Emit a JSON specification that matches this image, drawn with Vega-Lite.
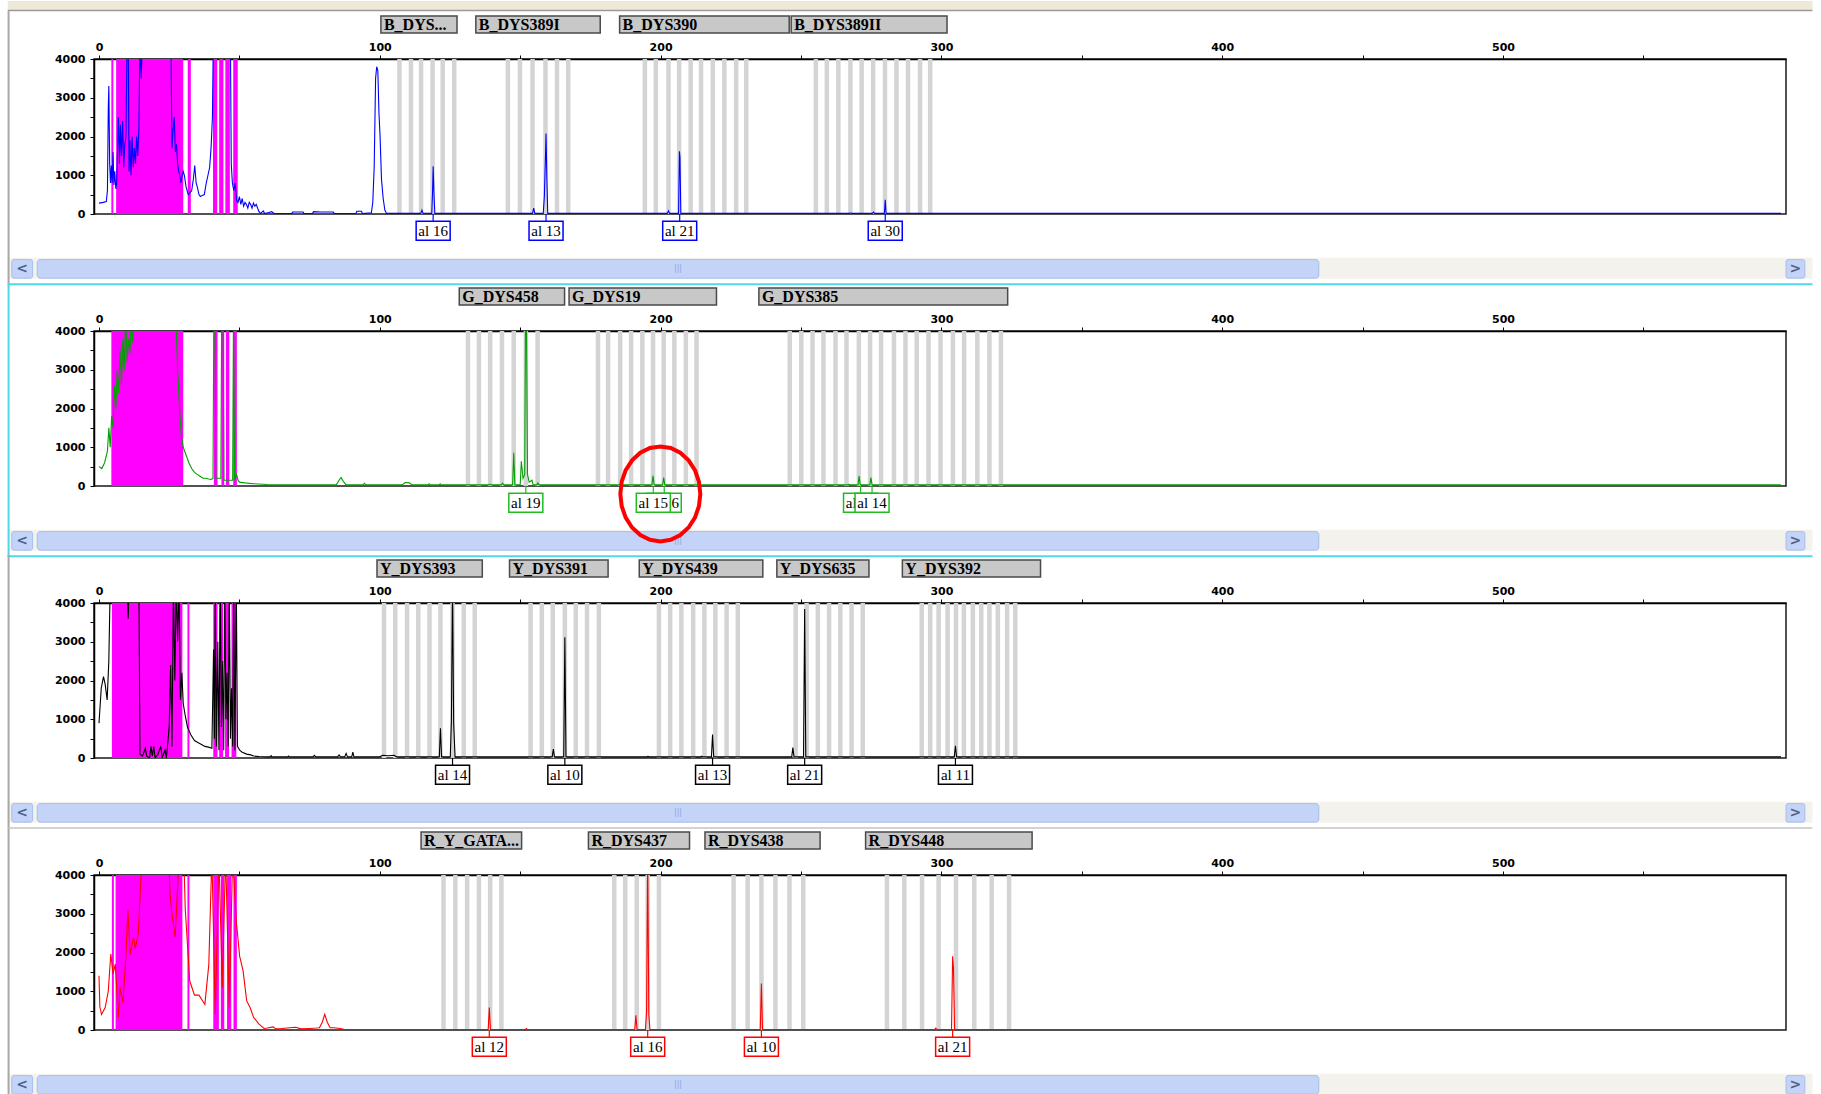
{
"$schema": "https://vega.github.io/schema/vega-lite/v6.json",
"background": "white",
"padding": {"left": 5, "top": 0, "right": 0, "bottom": 0},
"data": {"values": [
{"panel":1,"bp":0,"rfu":280},{"panel":1,"bp":1.5,"rfu":300},{"panel":1,"bp":2.6,"rfu":320},{"panel":1,"bp":3.0,"rfu":600},{"panel":1,"bp":3.3,"rfu":2700},{"panel":1,"bp":3.5,"rfu":3300},{"panel":1,"bp":3.8,"rfu":1300},{"panel":1,"bp":4.1,"rfu":800},{"panel":1,"bp":4.4,"rfu":1250},{"panel":1,"bp":4.7,"rfu":800},{"panel":1,"bp":5.0,"rfu":1600},{"panel":1,"bp":5.3,"rfu":750},{"panel":1,"bp":5.6,"rfu":1100},{"panel":1,"bp":6.0,"rfu":650},{"panel":1,"bp":6.3,"rfu":800},{"panel":1,"bp":6.6,"rfu":1650},{"panel":1,"bp":6.9,"rfu":2500},{"panel":1,"bp":7.3,"rfu":1300},{"panel":1,"bp":7.6,"rfu":2300},{"panel":1,"bp":8.0,"rfu":1500},{"panel":1,"bp":8.4,"rfu":2400},{"panel":1,"bp":8.8,"rfu":1200},{"panel":1,"bp":9.2,"rfu":1800},{"panel":1,"bp":9.6,"rfu":2000},{"panel":1,"bp":10.0,"rfu":4500},{"panel":1,"bp":10.4,"rfu":4500},{"panel":1,"bp":10.7,"rfu":1100},{"panel":1,"bp":11.0,"rfu":1900},{"panel":1,"bp":11.4,"rfu":1000},{"panel":1,"bp":11.8,"rfu":2000},{"panel":1,"bp":12.2,"rfu":1200},{"panel":1,"bp":12.6,"rfu":1700},{"panel":1,"bp":13.0,"rfu":1300},{"panel":1,"bp":13.4,"rfu":2000},{"panel":1,"bp":13.8,"rfu":1500},{"panel":1,"bp":14.2,"rfu":2200},{"panel":1,"bp":14.6,"rfu":4500},{"panel":1,"bp":15.0,"rfu":3500},{"panel":1,"bp":15.5,"rfu":4500},{"panel":1,"bp":16.2,"rfu":4600},{"panel":1,"bp":20.0,"rfu":4700},{"panel":1,"bp":25.0,"rfu":4600},{"panel":1,"bp":25.6,"rfu":4500},{"panel":1,"bp":26.0,"rfu":1700},{"panel":1,"bp":26.4,"rfu":2200},{"panel":1,"bp":26.8,"rfu":2500},{"panel":1,"bp":27.2,"rfu":1600},{"panel":1,"bp":27.6,"rfu":1800},{"panel":1,"bp":28.0,"rfu":1300},{"panel":1,"bp":28.4,"rfu":1100},{"panel":1,"bp":28.8,"rfu":1000},{"panel":1,"bp":29.2,"rfu":800},{"panel":1,"bp":29.6,"rfu":1000},{"panel":1,"bp":30.0,"rfu":1100},{"panel":1,"bp":30.4,"rfu":1000},{"panel":1,"bp":31.0,"rfu":700},{"panel":1,"bp":31.8,"rfu":500},{"panel":1,"bp":32.4,"rfu":550},{"panel":1,"bp":33.0,"rfu":600},{"panel":1,"bp":33.6,"rfu":900},{"panel":1,"bp":34.1,"rfu":1250},{"panel":1,"bp":34.6,"rfu":800},{"panel":1,"bp":35.0,"rfu":700},{"panel":1,"bp":35.6,"rfu":500},{"panel":1,"bp":36.1,"rfu":450},{"panel":1,"bp":36.8,"rfu":480},{"panel":1,"bp":37.5,"rfu":500},{"panel":1,"bp":38.2,"rfu":800},{"panel":1,"bp":38.8,"rfu":1000},{"panel":1,"bp":39.4,"rfu":1200},{"panel":1,"bp":39.9,"rfu":1700},{"panel":1,"bp":40.4,"rfu":2500},{"panel":1,"bp":40.7,"rfu":4500},{"panel":1,"bp":43.0,"rfu":4600},{"panel":1,"bp":46.8,"rfu":4500},{"panel":1,"bp":47.1,"rfu":1300},{"panel":1,"bp":47.5,"rfu":800},{"panel":1,"bp":48.0,"rfu":600},{"panel":1,"bp":48.5,"rfu":800},{"panel":1,"bp":49.0,"rfu":350},{"panel":1,"bp":49.5,"rfu":300},{"panel":1,"bp":50.0,"rfu":450},{"panel":1,"bp":50.5,"rfu":250},{"panel":1,"bp":51.0,"rfu":400},{"panel":1,"bp":51.5,"rfu":200},{"panel":1,"bp":52.0,"rfu":300},{"panel":1,"bp":52.5,"rfu":250},{"panel":1,"bp":53.0,"rfu":150},{"panel":1,"bp":53.5,"rfu":300},{"panel":1,"bp":54.0,"rfu":250},{"panel":1,"bp":54.5,"rfu":150},{"panel":1,"bp":55.0,"rfu":280},{"panel":1,"bp":55.5,"rfu":200},{"panel":1,"bp":56.0,"rfu":250},{"panel":1,"bp":56.5,"rfu":150},{"panel":1,"bp":57.0,"rfu":60},{"panel":1,"bp":57.5,"rfu":10},{"panel":1,"bp":58.5,"rfu":80},{"panel":1,"bp":59.0,"rfu":10},{"panel":1,"bp":60.5,"rfu":40},{"panel":1,"bp":61.5,"rfu":60},{"panel":1,"bp":62.5,"rfu":10},{"panel":1,"bp":68.6,"rfu":10},{"panel":1,"bp":69.0,"rfu":50},{"panel":1,"bp":72.7,"rfu":50},{"panel":1,"bp":73.0,"rfu":10},{"panel":1,"bp":76.0,"rfu":10},{"panel":1,"bp":76.4,"rfu":60},{"panel":1,"bp":79.0,"rfu":50},{"panel":1,"bp":83.4,"rfu":50},{"panel":1,"bp":83.8,"rfu":10},{"panel":1,"bp":91.5,"rfu":10},{"panel":1,"bp":91.8,"rfu":70},{"panel":1,"bp":93.5,"rfu":70},{"panel":1,"bp":93.8,"rfu":10},{"panel":1,"bp":97.0,"rfu":30},{"panel":1,"bp":97.5,"rfu":300},{"panel":1,"bp":98.0,"rfu":1200},{"panel":1,"bp":98.5,"rfu":3500},{"panel":1,"bp":98.9,"rfu":3800},{"panel":1,"bp":99.3,"rfu":3700},{"panel":1,"bp":99.7,"rfu":2600},{"panel":1,"bp":100.1,"rfu":2000},{"panel":1,"bp":100.6,"rfu":900},{"panel":1,"bp":101.2,"rfu":400},{"panel":1,"bp":101.8,"rfu":100},{"panel":1,"bp":102.4,"rfu":15},{"panel":1,"bp":114.6,"rfu":15},{"panel":1,"bp":115.0,"rfu":100},{"panel":1,"bp":115.4,"rfu":15},{"panel":1,"bp":118.5,"rfu":15},{"panel":1,"bp":118.8,"rfu":600},{"panel":1,"bp":119.0,"rfu":1230},{"panel":1,"bp":119.3,"rfu":500},{"panel":1,"bp":119.6,"rfu":15},{"panel":1,"bp":154.4,"rfu":15},{"panel":1,"bp":154.8,"rfu":150},{"panel":1,"bp":155.2,"rfu":15},{"panel":1,"bp":158.2,"rfu":15},{"panel":1,"bp":158.6,"rfu":450},{"panel":1,"bp":159.0,"rfu":1500},{"panel":1,"bp":159.2,"rfu":2080},{"panel":1,"bp":159.5,"rfu":900},{"panel":1,"bp":159.8,"rfu":15},{"panel":1,"bp":202.4,"rfu":15},{"panel":1,"bp":202.8,"rfu":80},{"panel":1,"bp":203.2,"rfu":15},{"panel":1,"bp":206.4,"rfu":15},{"panel":1,"bp":206.7,"rfu":1620},{"panel":1,"bp":206.9,"rfu":1450},{"panel":1,"bp":207.2,"rfu":15},{"panel":1,"bp":267.3,"rfu":15},{"panel":1,"bp":267.6,"rfu":30},{"panel":1,"bp":267.9,"rfu":15},{"panel":1,"bp":275.4,"rfu":15},{"panel":1,"bp":275.8,"rfu":50},{"panel":1,"bp":276.2,"rfu":15},{"panel":1,"bp":279.7,"rfu":15},{"panel":1,"bp":280.0,"rfu":370},{"panel":1,"bp":280.3,"rfu":15},{"panel":1,"bp":599,"rfu":15},

{"panel":2,"bp":0,"rfu":500},{"panel":2,"bp":1.0,"rfu":450},{"panel":2,"bp":2.0,"rfu":600},{"panel":2,"bp":3.0,"rfu":900},{"panel":2,"bp":3.5,"rfu":1500},{"panel":2,"bp":4.0,"rfu":1000},{"panel":2,"bp":4.5,"rfu":1800},{"panel":2,"bp":5.0,"rfu":1500},{"panel":2,"bp":5.5,"rfu":2600},{"panel":2,"bp":6.0,"rfu":2000},{"panel":2,"bp":6.5,"rfu":3000},{"panel":2,"bp":7.0,"rfu":2400},{"panel":2,"bp":7.5,"rfu":3500},{"panel":2,"bp":8.0,"rfu":2600},{"panel":2,"bp":8.5,"rfu":3800},{"panel":2,"bp":9.0,"rfu":3000},{"panel":2,"bp":9.5,"rfu":4500},{"panel":2,"bp":10.0,"rfu":3200},{"panel":2,"bp":10.5,"rfu":3800},{"panel":2,"bp":11.0,"rfu":3400},{"panel":2,"bp":11.5,"rfu":4500},{"panel":2,"bp":12.0,"rfu":3700},{"panel":2,"bp":12.5,"rfu":4500},{"panel":2,"bp":13.0,"rfu":4600},{"panel":2,"bp":20.0,"rfu":4700},{"panel":2,"bp":26.5,"rfu":4600},{"panel":2,"bp":27.3,"rfu":4500},{"panel":2,"bp":28.0,"rfu":3000},{"panel":2,"bp":28.7,"rfu":2000},{"panel":2,"bp":29.3,"rfu":1300},{"panel":2,"bp":30.0,"rfu":1000},{"panel":2,"bp":31.0,"rfu":800},{"panel":2,"bp":32.0,"rfu":600},{"panel":2,"bp":33.0,"rfu":450},{"panel":2,"bp":34.0,"rfu":350},{"panel":2,"bp":35.0,"rfu":300},{"panel":2,"bp":36.0,"rfu":250},{"panel":2,"bp":37.0,"rfu":200},{"panel":2,"bp":38.0,"rfu":200},{"panel":2,"bp":39.0,"rfu":180},{"panel":2,"bp":40.0,"rfu":170},{"panel":2,"bp":40.6,"rfu":200},{"panel":2,"bp":40.9,"rfu":4500},{"panel":2,"bp":41.3,"rfu":4500},{"panel":2,"bp":41.6,"rfu":200},{"panel":2,"bp":43.4,"rfu":200},{"panel":2,"bp":43.7,"rfu":4500},{"panel":2,"bp":44.2,"rfu":4500},{"panel":2,"bp":44.5,"rfu":150},{"panel":2,"bp":47.6,"rfu":150},{"panel":2,"bp":47.9,"rfu":4500},{"panel":2,"bp":48.3,"rfu":150},{"panel":2,"bp":49.0,"rfu":300},{"panel":2,"bp":49.5,"rfu":150},{"panel":2,"bp":50.0,"rfu":100},{"panel":2,"bp":52.0,"rfu":80},{"panel":2,"bp":55.0,"rfu":60},{"panel":2,"bp":60.0,"rfu":40},{"panel":2,"bp":70.0,"rfu":30},{"panel":2,"bp":84.5,"rfu":30},{"panel":2,"bp":85.5,"rfu":150},{"panel":2,"bp":86.2,"rfu":220},{"panel":2,"bp":87.0,"rfu":120},{"panel":2,"bp":88.0,"rfu":30},{"panel":2,"bp":94.0,"rfu":30},{"panel":2,"bp":94.5,"rfu":70},{"panel":2,"bp":95.0,"rfu":30},{"panel":2,"bp":108.0,"rfu":30},{"panel":2,"bp":109.0,"rfu":90},{"panel":2,"bp":110.5,"rfu":80},{"panel":2,"bp":111.5,"rfu":30},{"panel":2,"bp":117.2,"rfu":30},{"panel":2,"bp":117.6,"rfu":60},{"panel":2,"bp":118.0,"rfu":30},{"panel":2,"bp":121.1,"rfu":30},{"panel":2,"bp":121.5,"rfu":60},{"panel":2,"bp":121.9,"rfu":30},{"panel":2,"bp":138.8,"rfu":30},{"panel":2,"bp":139.2,"rfu":50},{"panel":2,"bp":139.6,"rfu":30},{"panel":2,"bp":143.3,"rfu":30},{"panel":2,"bp":143.7,"rfu":70},{"panel":2,"bp":144.1,"rfu":30},{"panel":2,"bp":147.3,"rfu":30},{"panel":2,"bp":147.7,"rfu":860},{"panel":2,"bp":148.1,"rfu":30},{"panel":2,"bp":150.0,"rfu":30},{"panel":2,"bp":150.4,"rfu":640},{"panel":2,"bp":151.0,"rfu":200},{"panel":2,"bp":151.6,"rfu":300},{"panel":2,"bp":151.9,"rfu":4500},{"panel":2,"bp":152.2,"rfu":4500},{"panel":2,"bp":152.6,"rfu":300},{"panel":2,"bp":153.2,"rfu":100},{"panel":2,"bp":154.2,"rfu":150},{"panel":2,"bp":154.6,"rfu":30},{"panel":2,"bp":155.9,"rfu":30},{"panel":2,"bp":156.3,"rfu":80},{"panel":2,"bp":156.7,"rfu":30},{"panel":2,"bp":196.9,"rfu":30},{"panel":2,"bp":197.3,"rfu":266},{"panel":2,"bp":197.7,"rfu":30},{"panel":2,"bp":200.7,"rfu":30},{"panel":2,"bp":201.1,"rfu":215},{"panel":2,"bp":201.5,"rfu":30},{"panel":2,"bp":266.6,"rfu":30},{"panel":2,"bp":267.0,"rfu":40},{"panel":2,"bp":267.4,"rfu":30},{"panel":2,"bp":270.3,"rfu":30},{"panel":2,"bp":270.7,"rfu":258},{"panel":2,"bp":271.1,"rfu":30},{"panel":2,"bp":274.5,"rfu":30},{"panel":2,"bp":274.9,"rfu":215},{"panel":2,"bp":275.3,"rfu":30},{"panel":2,"bp":599,"rfu":30},

{"panel":3,"bp":0,"rfu":900},{"panel":3,"bp":0.8,"rfu":1800},{"panel":3,"bp":1.6,"rfu":2100},{"panel":3,"bp":2.2,"rfu":1900},{"panel":3,"bp":2.9,"rfu":1500},{"panel":3,"bp":3.5,"rfu":2500},{"panel":3,"bp":4.0,"rfu":4500},{"panel":3,"bp":4.6,"rfu":4600},{"panel":3,"bp":10.0,"rfu":4600},{"panel":3,"bp":10.4,"rfu":3600},{"panel":3,"bp":10.8,"rfu":4600},{"panel":3,"bp":14.2,"rfu":4600},{"panel":3,"bp":14.6,"rfu":100},{"panel":3,"bp":15.5,"rfu":50},{"panel":3,"bp":16.5,"rfu":250},{"panel":3,"bp":17.0,"rfu":50},{"panel":3,"bp":18.0,"rfu":0},{"panel":3,"bp":18.5,"rfu":300},{"panel":3,"bp":19.0,"rfu":50},{"panel":3,"bp":19.5,"rfu":300},{"panel":3,"bp":20.0,"rfu":0},{"panel":3,"bp":21.0,"rfu":100},{"panel":3,"bp":22.0,"rfu":300},{"panel":3,"bp":22.5,"rfu":0},{"panel":3,"bp":23.5,"rfu":200},{"panel":3,"bp":24.0,"rfu":0},{"panel":3,"bp":25.0,"rfu":800},{"panel":3,"bp":25.5,"rfu":2400},{"panel":3,"bp":26.0,"rfu":300},{"panel":3,"bp":26.5,"rfu":4500},{"panel":3,"bp":27.0,"rfu":2000},{"panel":3,"bp":27.5,"rfu":4500},{"panel":3,"bp":28.0,"rfu":3000},{"panel":3,"bp":28.5,"rfu":4500},{"panel":3,"bp":29.0,"rfu":1500},{"panel":3,"bp":29.5,"rfu":2200},{"panel":3,"bp":30.0,"rfu":1400},{"panel":3,"bp":30.7,"rfu":1100},{"panel":3,"bp":31.5,"rfu":800},{"panel":3,"bp":32.7,"rfu":600},{"panel":3,"bp":34.0,"rfu":450},{"panel":3,"bp":35.2,"rfu":400},{"panel":3,"bp":36.5,"rfu":350},{"panel":3,"bp":37.7,"rfu":300},{"panel":3,"bp":39.0,"rfu":280},{"panel":3,"bp":40.2,"rfu":250},{"panel":3,"bp":40.8,"rfu":2800},{"panel":3,"bp":41.1,"rfu":500},{"panel":3,"bp":41.4,"rfu":4500},{"panel":3,"bp":41.8,"rfu":300},{"panel":3,"bp":42.3,"rfu":3000},{"panel":3,"bp":42.7,"rfu":200},{"panel":3,"bp":43.2,"rfu":4500},{"panel":3,"bp":43.6,"rfu":800},{"panel":3,"bp":44.0,"rfu":2500},{"panel":3,"bp":44.4,"rfu":200},{"panel":3,"bp":44.8,"rfu":4500},{"panel":3,"bp":45.2,"rfu":1000},{"panel":3,"bp":45.6,"rfu":2200},{"panel":3,"bp":46.0,"rfu":300},{"panel":3,"bp":46.4,"rfu":4500},{"panel":3,"bp":46.8,"rfu":500},{"panel":3,"bp":47.2,"rfu":1800},{"panel":3,"bp":47.6,"rfu":300},{"panel":3,"bp":48.0,"rfu":4500},{"panel":3,"bp":48.4,"rfu":200},{"panel":3,"bp":48.9,"rfu":4500},{"panel":3,"bp":49.3,"rfu":300},{"panel":3,"bp":50.1,"rfu":200},{"panel":3,"bp":51.0,"rfu":150},{"panel":3,"bp":52.6,"rfu":100},{"panel":3,"bp":54.0,"rfu":80},{"panel":3,"bp":55.1,"rfu":50},{"panel":3,"bp":57.0,"rfu":40},{"panel":3,"bp":60.0,"rfu":30},{"panel":3,"bp":61.0,"rfu":30},{"panel":3,"bp":61.3,"rfu":60},{"panel":3,"bp":61.6,"rfu":30},{"panel":3,"bp":67.2,"rfu":30},{"panel":3,"bp":67.5,"rfu":50},{"panel":3,"bp":67.8,"rfu":30},{"panel":3,"bp":76.2,"rfu":30},{"panel":3,"bp":76.7,"rfu":70},{"panel":3,"bp":77.2,"rfu":30},{"panel":3,"bp":85.0,"rfu":30},{"panel":3,"bp":85.5,"rfu":80},{"panel":3,"bp":86.0,"rfu":30},{"panel":3,"bp":87.5,"rfu":30},{"panel":3,"bp":88.0,"rfu":120},{"panel":3,"bp":88.5,"rfu":30},{"panel":3,"bp":90.0,"rfu":30},{"panel":3,"bp":90.4,"rfu":150},{"panel":3,"bp":90.8,"rfu":30},{"panel":3,"bp":100.0,"rfu":30},{"panel":3,"bp":101.0,"rfu":70},{"panel":3,"bp":103.0,"rfu":60},{"panel":3,"bp":105.0,"rfu":70},{"panel":3,"bp":106.0,"rfu":30},{"panel":3,"bp":121.2,"rfu":30},{"panel":3,"bp":121.6,"rfu":770},{"panel":3,"bp":122.0,"rfu":30},{"panel":3,"bp":125.1,"rfu":30},{"panel":3,"bp":125.5,"rfu":960},{"panel":3,"bp":125.9,"rfu":4500},{"panel":3,"bp":126.3,"rfu":900},{"panel":3,"bp":126.8,"rfu":30},{"panel":3,"bp":161.4,"rfu":30},{"panel":3,"bp":161.8,"rfu":233},{"panel":3,"bp":162.2,"rfu":30},{"panel":3,"bp":165.5,"rfu":30},{"panel":3,"bp":165.9,"rfu":3114},{"panel":3,"bp":166.3,"rfu":30},{"panel":3,"bp":195.1,"rfu":30},{"panel":3,"bp":195.5,"rfu":40},{"panel":3,"bp":195.9,"rfu":30},{"panel":3,"bp":214.2,"rfu":30},{"panel":3,"bp":214.6,"rfu":50},{"panel":3,"bp":215.0,"rfu":30},{"panel":3,"bp":218.1,"rfu":30},{"panel":3,"bp":218.5,"rfu":605},{"panel":3,"bp":218.9,"rfu":30},{"panel":3,"bp":246.7,"rfu":30},{"panel":3,"bp":247.1,"rfu":268},{"panel":3,"bp":247.5,"rfu":30},{"panel":3,"bp":250.9,"rfu":30},{"panel":3,"bp":251.3,"rfu":3845},{"panel":3,"bp":251.7,"rfu":30},{"panel":3,"bp":304.6,"rfu":30},{"panel":3,"bp":305.0,"rfu":316},{"panel":3,"bp":305.4,"rfu":30},{"panel":3,"bp":599,"rfu":30},

{"panel":4,"bp":0,"rfu":1400},{"panel":4,"bp":0.3,"rfu":600},{"panel":4,"bp":0.9,"rfu":400},{"panel":4,"bp":2.2,"rfu":580},{"panel":4,"bp":3.3,"rfu":1000},{"panel":4,"bp":4.2,"rfu":1960},{"panel":4,"bp":5.0,"rfu":1450},{"panel":4,"bp":5.8,"rfu":1700},{"panel":4,"bp":6.9,"rfu":320},{"panel":4,"bp":7.5,"rfu":1100},{"panel":4,"bp":8.5,"rfu":700},{"panel":4,"bp":9.5,"rfu":1800},{"panel":4,"bp":10.3,"rfu":3100},{"panel":4,"bp":11.1,"rfu":1950},{"panel":4,"bp":12.3,"rfu":2400},{"panel":4,"bp":12.9,"rfu":2100},{"panel":4,"bp":14.0,"rfu":2500},{"panel":4,"bp":15.3,"rfu":4500},{"panel":4,"bp":16.0,"rfu":4600},{"panel":4,"bp":20.0,"rfu":4700},{"panel":4,"bp":24.8,"rfu":4600},{"panel":4,"bp":25.3,"rfu":3500},{"panel":4,"bp":26.0,"rfu":3000},{"panel":4,"bp":27.1,"rfu":2400},{"panel":4,"bp":27.8,"rfu":3400},{"panel":4,"bp":28.5,"rfu":4500},{"panel":4,"bp":30.2,"rfu":4500},{"panel":4,"bp":30.7,"rfu":3150},{"panel":4,"bp":32.3,"rfu":1270},{"panel":4,"bp":34.0,"rfu":900},{"panel":4,"bp":35.6,"rfu":900},{"panel":4,"bp":37.7,"rfu":660},{"panel":4,"bp":39.1,"rfu":1680},{"panel":4,"bp":40.2,"rfu":4500},{"panel":4,"bp":41.4,"rfu":400},{"panel":4,"bp":42.7,"rfu":4500},{"panel":4,"bp":43.9,"rfu":1100},{"panel":4,"bp":45.1,"rfu":4500},{"panel":4,"bp":46.4,"rfu":580},{"panel":4,"bp":47.6,"rfu":4500},{"panel":4,"bp":48.9,"rfu":2800},{"panel":4,"bp":50.1,"rfu":1900},{"panel":4,"bp":51.3,"rfu":1530},{"panel":4,"bp":52.6,"rfu":750},{"panel":4,"bp":53.8,"rfu":580},{"panel":4,"bp":55.1,"rfu":320},{"panel":4,"bp":57.0,"rfu":150},{"panel":4,"bp":58.8,"rfu":40},{"panel":4,"bp":60.0,"rfu":50},{"panel":4,"bp":62.0,"rfu":80},{"panel":4,"bp":63.0,"rfu":30},{"panel":4,"bp":65.0,"rfu":40},{"panel":4,"bp":68.0,"rfu":60},{"panel":4,"bp":70.0,"rfu":70},{"panel":4,"bp":72.0,"rfu":30},{"panel":4,"bp":75.0,"rfu":40},{"panel":4,"bp":77.5,"rfu":50},{"panel":4,"bp":78.5,"rfu":60},{"panel":4,"bp":79.5,"rfu":200},{"panel":4,"bp":80.4,"rfu":406},{"panel":4,"bp":81.3,"rfu":200},{"panel":4,"bp":82.3,"rfu":60},{"panel":4,"bp":83.6,"rfu":60},{"panel":4,"bp":86.0,"rfu":40},{"panel":4,"bp":87.4,"rfu":10},{"panel":4,"bp":138.6,"rfu":10},{"panel":4,"bp":139.0,"rfu":577},{"panel":4,"bp":139.4,"rfu":10},{"panel":4,"bp":151.8,"rfu":10},{"panel":4,"bp":152.2,"rfu":40},{"panel":4,"bp":152.6,"rfu":10},{"panel":4,"bp":190.8,"rfu":10},{"panel":4,"bp":191.2,"rfu":380},{"panel":4,"bp":191.6,"rfu":10},{"panel":4,"bp":194.6,"rfu":10},{"panel":4,"bp":195.0,"rfu":474},{"panel":4,"bp":195.4,"rfu":4500},{"panel":4,"bp":195.8,"rfu":400},{"panel":4,"bp":196.2,"rfu":10},{"panel":4,"bp":235.5,"rfu":10},{"panel":4,"bp":235.9,"rfu":1198},{"panel":4,"bp":236.3,"rfu":10},{"panel":4,"bp":297.6,"rfu":10},{"panel":4,"bp":298.0,"rfu":50},{"panel":4,"bp":298.4,"rfu":10},{"panel":4,"bp":303.6,"rfu":10},{"panel":4,"bp":304.0,"rfu":1905},{"panel":4,"bp":304.3,"rfu":1600},{"panel":4,"bp":304.7,"rfu":10},{"panel":4,"bp":599,"rfu":10},

{"panel":1,"marker":"B_DYS...","start":100.4,"end":127.5},{"panel":1,"marker":"B_DYS389I","start":134.2,"end":178.5},{"panel":1,"marker":"B_DYS390","start":185.4,"end":245.8},{"panel":1,"marker":"B_DYS389II","start":246.5,"end":302},
{"panel":2,"marker":"G_DYS458","start":128.3,"end":165.8},{"panel":2,"marker":"G_DYS19","start":167.4,"end":219.9},{"panel":2,"marker":"G_DYS385","start":235,"end":323.6},
{"panel":3,"marker":"Y_DYS393","start":99,"end":136.5},{"panel":3,"marker":"Y_DYS391","start":146.2,"end":181.3},{"panel":3,"marker":"Y_DYS439","start":192.4,"end":236.4},{"panel":3,"marker":"Y_DYS635","start":241.4,"end":274.2},{"panel":3,"marker":"Y_DYS392","start":286.1,"end":335.3},
{"panel":4,"marker":"R_Y_GATA...","start":114.7,"end":150.5},{"panel":4,"marker":"R_DYS437","start":174.3,"end":210.3},{"panel":4,"marker":"R_DYS438","start":215.8,"end":256.8},{"panel":4,"marker":"R_DYS448","start":273,"end":332.3},

{"panel":1,"bin":107},{"panel":1,"bin":111.1},{"panel":1,"bin":114.7},{"panel":1,"bin":118.8},{"panel":1,"bin":122.4},{"panel":1,"bin":126.5},{"panel":1,"bin":145.6},{"panel":1,"bin":149.9},{"panel":1,"bin":154.4},{"panel":1,"bin":159},{"panel":1,"bin":163.1},{"panel":1,"bin":167.1},{"panel":1,"bin":194.4},{"panel":1,"bin":198.3},{"panel":1,"bin":202.8},{"panel":1,"bin":206.6},{"panel":1,"bin":210.7},{"panel":1,"bin":214.4},{"panel":1,"bin":218.6},{"panel":1,"bin":222.7},{"panel":1,"bin":226.9},{"panel":1,"bin":230.5},{"panel":1,"bin":255.3},{"panel":1,"bin":259.2},{"panel":1,"bin":263.3},{"panel":1,"bin":267.6},{"panel":1,"bin":271.6},{"panel":1,"bin":275.7},{"panel":1,"bin":279.9},{"panel":1,"bin":284},{"panel":1,"bin":288.1},{"panel":1,"bin":292.4},{"panel":1,"bin":296},
{"panel":2,"bin":131.4},{"panel":2,"bin":135.3},{"panel":2,"bin":139.3},{"panel":2,"bin":143.5},{"panel":2,"bin":147.7},{"panel":2,"bin":152},{"panel":2,"bin":156.2},{"panel":2,"bin":177.7},{"panel":2,"bin":181.3},{"panel":2,"bin":185.6},{"panel":2,"bin":189.5},{"panel":2,"bin":193.5},{"panel":2,"bin":197.3},{"panel":2,"bin":201.1},{"panel":2,"bin":204.9},{"panel":2,"bin":209},{"panel":2,"bin":212.8},{"panel":2,"bin":246},{"panel":2,"bin":250.1},{"panel":2,"bin":254.1},{"panel":2,"bin":258},{"panel":2,"bin":262.3},{"panel":2,"bin":266.2},{"panel":2,"bin":270.6},{"panel":2,"bin":274.6},{"panel":2,"bin":278.5},{"panel":2,"bin":283.1},{"panel":2,"bin":287.2},{"panel":2,"bin":291.2},{"panel":2,"bin":295.4},{"panel":2,"bin":299.7},{"panel":2,"bin":304.1},{"panel":2,"bin":308.1},{"panel":2,"bin":312.8},{"panel":2,"bin":317.1},{"panel":2,"bin":321.2},
{"panel":3,"bin":101.5},{"panel":3,"bin":105.5},{"panel":3,"bin":109.7},{"panel":3,"bin":113.7},{"panel":3,"bin":117.7},{"panel":3,"bin":121.6},{"panel":3,"bin":125.9},{"panel":3,"bin":129.9},{"panel":3,"bin":133.8},{"panel":3,"bin":153.7},{"panel":3,"bin":157.7},{"panel":3,"bin":161.6},{"panel":3,"bin":165.9},{"panel":3,"bin":169.8},{"panel":3,"bin":173.8},{"panel":3,"bin":178},{"panel":3,"bin":199.4},{"panel":3,"bin":203.4},{"panel":3,"bin":207.4},{"panel":3,"bin":211.6},{"panel":3,"bin":215.6},{"panel":3,"bin":219.5},{"panel":3,"bin":223.5},{"panel":3,"bin":227.5},{"panel":3,"bin":248.1},{"panel":3,"bin":252},{"panel":3,"bin":256},{"panel":3,"bin":260},{"panel":3,"bin":264},{"panel":3,"bin":268},{"panel":3,"bin":272},{"panel":3,"bin":293},{"panel":3,"bin":296},{"panel":3,"bin":299},{"panel":3,"bin":302.2},{"panel":3,"bin":305.2},{"panel":3,"bin":308},{"panel":3,"bin":311.2},{"panel":3,"bin":314.2},{"panel":3,"bin":317.1},{"panel":3,"bin":320.1},{"panel":3,"bin":323.4},{"panel":3,"bin":326.3},
{"panel":4,"bin":122.7},{"panel":4,"bin":126.9},{"panel":4,"bin":131.1},{"panel":4,"bin":135.3},{"panel":4,"bin":139.3},{"panel":4,"bin":143.3},{"panel":4,"bin":183.5},{"panel":4,"bin":187.4},{"panel":4,"bin":191.5},{"panel":4,"bin":195.4},{"panel":4,"bin":199.4},{"panel":4,"bin":226},{"panel":4,"bin":231},{"panel":4,"bin":235.9},{"panel":4,"bin":240.9},{"panel":4,"bin":245.9},{"panel":4,"bin":250.8},{"panel":4,"bin":280.6},{"panel":4,"bin":286.8},{"panel":4,"bin":293.1},{"panel":4,"bin":299},{"panel":4,"bin":305.2},{"panel":4,"bin":311.7},{"panel":4,"bin":317.9},{"panel":4,"bin":324.1},

{"panel":1,"from":4.4,"to":5.1},{"panel":1,"from":6.1,"to":30},{"panel":1,"from":31.6,"to":32.7},{"panel":1,"from":40.6,"to":42.1},{"panel":1,"from":42.8,"to":44.3},{"panel":1,"from":45,"to":46.6},{"panel":1,"from":47.8,"to":49.4},
{"panel":2,"from":4.4,"to":30.0},{"panel":2,"from":40.9,"to":42.2},{"panel":2,"from":43.6,"to":44.6},{"panel":2,"from":45.2,"to":46.4},{"panel":2,"from":47.8,"to":49.1},
{"panel":3,"from":4.6,"to":29.7},{"panel":3,"from":31.5,"to":32.2},{"panel":3,"from":40.7,"to":42.2},{"panel":3,"from":42.8,"to":44.2},{"panel":3,"from":44.9,"to":46.3},{"panel":3,"from":47.2,"to":48.9},
{"panel":4,"from":4.6,"to":5.3},{"panel":4,"from":5.9,"to":29.7},{"panel":4,"from":31.5,"to":32.2},{"panel":4,"from":40.7,"to":42.7},{"panel":4,"from":43.4,"to":44.6},{"panel":4,"from":45.6,"to":47.1},{"panel":4,"from":47.9,"to":49.1},

{"panel":1,"allele":"al 16","size":119.0},{"panel":1,"allele":"al 13","size":159.2},{"panel":1,"allele":"al 21","size":206.8},{"panel":1,"allele":"al 30","size":280.0},
{"panel":2,"allele":"al 19","size":152.0},{"panel":2,"allele":"al 16","size":201.3},{"panel":2,"allele":"al 15","size":197.4},{"panel":2,"allele":"al 13","size":271.2},{"panel":2,"allele":"al 14","size":275.3},
{"panel":3,"allele":"al 14","size":125.9},{"panel":3,"allele":"al 10","size":165.9},{"panel":3,"allele":"al 13","size":218.5},{"panel":3,"allele":"al 21","size":251.3},{"panel":3,"allele":"al 11","size":305.0},
{"panel":4,"allele":"al 12","size":139.0},{"panel":4,"allele":"al 16","size":195.4},{"panel":4,"allele":"al 10","size":235.9},{"panel":4,"allele":"al 21","size":304.0},

{"panel":2,"note":"circled","at":199.9}
]},
"facet": {"row": {"field": "panel", "type": "ordinal", "title": null, "header": {"labels": false, "title": null}}},
"spacing": {"row": 117},
"bounds": "flush",
"resolve": {"axis": {"x": "independent", "y": "independent"}},
"spec": {
"width": 1692,
"height": 155,
"layer": [
{"transform": [{"filter": "isValid(datum.bin)"}],
 "mark": {"type": "rule", "stroke": "#d4d4d4", "strokeWidth": 4.5},
 "encoding": {
  "x": {"field": "bin", "type": "quantitative", "scale": {"domain": [0, 599], "nice": false, "zero": false}, "title": null, "axis": {"orient": "top", "values": [0,50,100,150,200,250,300,350,400,450,500,550], "labelExpr": "datum.value % 100 === 0 ? datum.label : ''", "tickSize": 4, "labelPadding": 3, "labelFlush": false, "labelOverlap": false}},
  "y": {"datum": 0, "type": "quantitative", "scale": {"domain": [0, 4000], "nice": false, "zero": false}, "title": null, "axis": {"orient": "left", "values": [0,500,1000,1500,2000,2500,3000,3500,4000], "format": "d", "labelExpr": "datum.value % 1000 === 0 ? datum.label : ''", "tickSize": 4, "labelPadding": 5, "labelFlush": false, "labelOverlap": false}},
  "y2": {"datum": 4000}}},
{"transform": [{"filter": "isValid(datum.from)"}],
 "mark": {"type": "rect", "fill": "#ff00ff"},
 "encoding": {
  "x": {"field": "from", "type": "quantitative", "scale": {"domain": [0, 599], "nice": false, "zero": false}, "title": null, "axis": {"orient": "top", "values": [0,50,100,150,200,250,300,350,400,450,500,550], "labelExpr": "datum.value % 100 === 0 ? datum.label : ''", "tickSize": 4, "labelPadding": 3, "labelFlush": false, "labelOverlap": false}},
  "x2": {"field": "to"},
  "y": {"datum": 0, "type": "quantitative", "scale": {"domain": [0, 4000], "nice": false, "zero": false}, "title": null, "axis": {"orient": "left", "values": [0,500,1000,1500,2000,2500,3000,3500,4000], "format": "d", "labelExpr": "datum.value % 1000 === 0 ? datum.label : ''", "tickSize": 4, "labelPadding": 5, "labelFlush": false, "labelOverlap": false}},
  "y2": {"datum": 4000}}},
{"transform": [{"filter": "isValid(datum.rfu)"}],
 "mark": {"type": "line", "strokeWidth": 1.1, "clip": true},
 "encoding": {
  "x": {"field": "bp", "type": "quantitative", "scale": {"domain": [0, 599], "nice": false, "zero": false}, "title": null, "axis": {"orient": "top", "values": [0,50,100,150,200,250,300,350,400,450,500,550], "labelExpr": "datum.value % 100 === 0 ? datum.label : ''", "tickSize": 4, "labelPadding": 3, "labelFlush": false, "labelOverlap": false}},
  "y": {"field": "rfu", "type": "quantitative", "scale": {"domain": [0, 4000], "nice": false, "zero": false}, "title": null, "axis": {"orient": "left", "values": [0,500,1000,1500,2000,2500,3000,3500,4000], "format": "d", "labelExpr": "datum.value % 1000 === 0 ? datum.label : ''", "tickSize": 4, "labelPadding": 5, "labelFlush": false, "labelOverlap": false}},
  "color": {"field": "panel", "type": "nominal", "scale": {"domain": [1, 2, 3, 4], "range": ["#0000ff", "#00a000", "#000000", "#ff0000"]}, "legend": null}}},
{"transform": [{"filter": "isValid(datum.marker)"}],
 "mark": {"type": "rect", "fill": "#c8c8c8", "stroke": "#4a4a4a", "strokeWidth": 1.5},
 "encoding": {
  "x": {"field": "start", "type": "quantitative", "scale": {"domain": [0, 599], "nice": false, "zero": false}, "title": null, "axis": {"orient": "top", "values": [0,50,100,150,200,250,300,350,400,450,500,550], "labelExpr": "datum.value % 100 === 0 ? datum.label : ''", "tickSize": 4, "labelPadding": 3, "labelFlush": false, "labelOverlap": false}},
  "x2": {"field": "end"},
  "y": {"datum": 5110, "type": "quantitative", "scale": {"domain": [0, 4000], "nice": false, "zero": false}, "title": null, "axis": {"orient": "left", "values": [0,500,1000,1500,2000,2500,3000,3500,4000], "format": "d", "labelExpr": "datum.value % 1000 === 0 ? datum.label : ''", "tickSize": 4, "labelPadding": 5, "labelFlush": false, "labelOverlap": false}},
  "y2": {"datum": 4671}}},
{"transform": [{"filter": "isValid(datum.marker)"}],
 "mark": {"type": "text", "align": "left", "baseline": "middle", "dx": 3, "font": "Liberation Serif", "fontWeight": "bold", "fontSize": 16, "fill": "#000000"},
 "encoding": {
  "x": {"field": "start", "type": "quantitative", "scale": {"domain": [0, 599], "nice": false, "zero": false}, "title": null, "axis": {"orient": "top", "values": [0,50,100,150,200,250,300,350,400,450,500,550], "labelExpr": "datum.value % 100 === 0 ? datum.label : ''", "tickSize": 4, "labelPadding": 3, "labelFlush": false, "labelOverlap": false}},
  "y": {"datum": 4880, "type": "quantitative", "scale": {"domain": [0, 4000], "nice": false, "zero": false}, "title": null, "axis": {"orient": "left", "values": [0,500,1000,1500,2000,2500,3000,3500,4000], "format": "d", "labelExpr": "datum.value % 1000 === 0 ? datum.label : ''", "tickSize": 4, "labelPadding": 5, "labelFlush": false, "labelOverlap": false}},
  "text": {"field": "marker"}}},
{"transform": [{"filter": "isValid(datum.allele)"}],
 "mark": {"type": "rule", "strokeWidth": 1.2},
 "encoding": {
  "x": {"field": "size", "type": "quantitative", "scale": {"domain": [0, 599], "nice": false, "zero": false}, "title": null, "axis": {"orient": "top", "values": [0,50,100,150,200,250,300,350,400,450,500,550], "labelExpr": "datum.value % 100 === 0 ? datum.label : ''", "tickSize": 4, "labelPadding": 3, "labelFlush": false, "labelOverlap": false}},
  "y": {"datum": 0, "type": "quantitative", "scale": {"domain": [0, 4000], "nice": false, "zero": false}, "title": null, "axis": {"orient": "left", "values": [0,500,1000,1500,2000,2500,3000,3500,4000], "format": "d", "labelExpr": "datum.value % 1000 === 0 ? datum.label : ''", "tickSize": 4, "labelPadding": 5, "labelFlush": false, "labelOverlap": false}},
  "y2": {"datum": -188},
  "stroke": {"field": "panel", "type": "nominal", "scale": {"domain": [1, 2, 3, 4], "range": ["#0000ff", "#22bb22", "#000000", "#ff0000"]}, "legend": null}}},
{"transform": [{"filter": "isValid(datum.allele) && datum.panel === 2 && (datum.allele === 'al 16' || datum.allele === 'al 13')"}],
 "mark": {"type": "bar", "width": 34, "fill": "white", "strokeWidth": 1.5},
 "encoding": {
  "x": {"field": "size", "type": "quantitative", "scale": {"domain": [0, 599], "nice": false, "zero": false}, "title": null, "axis": {"orient": "top", "values": [0,50,100,150,200,250,300,350,400,450,500,550], "labelExpr": "datum.value % 100 === 0 ? datum.label : ''", "tickSize": 4, "labelPadding": 3, "labelFlush": false, "labelOverlap": false}},
  "y": {"datum": -188, "type": "quantitative", "scale": {"domain": [0, 4000], "nice": false, "zero": false}, "title": null, "axis": {"orient": "left", "values": [0,500,1000,1500,2000,2500,3000,3500,4000], "format": "d", "labelExpr": "datum.value % 1000 === 0 ? datum.label : ''", "tickSize": 4, "labelPadding": 5, "labelFlush": false, "labelOverlap": false}},
  "y2": {"datum": -679},
  "stroke": {"field": "panel", "type": "nominal", "scale": {"domain": [1, 2, 3, 4], "range": ["#0000ff", "#22bb22", "#000000", "#ff0000"]}, "legend": null}}},
{"transform": [{"filter": "isValid(datum.allele) && datum.panel === 2 && (datum.allele === 'al 16' || datum.allele === 'al 13')"}],
 "mark": {"type": "text", "font": "Liberation Serif", "fontSize": 15, "fill": "#000000", "baseline": "middle"},
 "encoding": {
  "x": {"field": "size", "type": "quantitative", "scale": {"domain": [0, 599], "nice": false, "zero": false}, "title": null, "axis": {"orient": "top", "values": [0,50,100,150,200,250,300,350,400,450,500,550], "labelExpr": "datum.value % 100 === 0 ? datum.label : ''", "tickSize": 4, "labelPadding": 3, "labelFlush": false, "labelOverlap": false}},
  "y": {"datum": -434, "type": "quantitative", "scale": {"domain": [0, 4000], "nice": false, "zero": false}, "title": null, "axis": {"orient": "left", "values": [0,500,1000,1500,2000,2500,3000,3500,4000], "format": "d", "labelExpr": "datum.value % 1000 === 0 ? datum.label : ''", "tickSize": 4, "labelPadding": 5, "labelFlush": false, "labelOverlap": false}},
  "text": {"field": "allele"}}},
{"transform": [{"filter": "isValid(datum.allele) && !(datum.panel === 2 && (datum.allele === 'al 16' || datum.allele === 'al 13'))"}],
 "mark": {"type": "bar", "width": 34, "fill": "white", "strokeWidth": 1.5},
 "encoding": {
  "x": {"field": "size", "type": "quantitative", "scale": {"domain": [0, 599], "nice": false, "zero": false}, "title": null, "axis": {"orient": "top", "values": [0,50,100,150,200,250,300,350,400,450,500,550], "labelExpr": "datum.value % 100 === 0 ? datum.label : ''", "tickSize": 4, "labelPadding": 3, "labelFlush": false, "labelOverlap": false}},
  "y": {"datum": -188, "type": "quantitative", "scale": {"domain": [0, 4000], "nice": false, "zero": false}, "title": null, "axis": {"orient": "left", "values": [0,500,1000,1500,2000,2500,3000,3500,4000], "format": "d", "labelExpr": "datum.value % 1000 === 0 ? datum.label : ''", "tickSize": 4, "labelPadding": 5, "labelFlush": false, "labelOverlap": false}},
  "y2": {"datum": -679},
  "stroke": {"field": "panel", "type": "nominal", "scale": {"domain": [1, 2, 3, 4], "range": ["#0000ff", "#22bb22", "#000000", "#ff0000"]}, "legend": null}}},
{"transform": [{"filter": "isValid(datum.allele) && !(datum.panel === 2 && (datum.allele === 'al 16' || datum.allele === 'al 13'))"}],
 "mark": {"type": "text", "font": "Liberation Serif", "fontSize": 15, "fill": "#000000", "baseline": "middle"},
 "encoding": {
  "x": {"field": "size", "type": "quantitative", "scale": {"domain": [0, 599], "nice": false, "zero": false}, "title": null, "axis": {"orient": "top", "values": [0,50,100,150,200,250,300,350,400,450,500,550], "labelExpr": "datum.value % 100 === 0 ? datum.label : ''", "tickSize": 4, "labelPadding": 3, "labelFlush": false, "labelOverlap": false}},
  "y": {"datum": -434, "type": "quantitative", "scale": {"domain": [0, 4000], "nice": false, "zero": false}, "title": null, "axis": {"orient": "left", "values": [0,500,1000,1500,2000,2500,3000,3500,4000], "format": "d", "labelExpr": "datum.value % 1000 === 0 ? datum.label : ''", "tickSize": 4, "labelPadding": 5, "labelFlush": false, "labelOverlap": false}},
  "text": {"field": "allele"}}},
{"transform": [{"filter": "isValid(datum.marker)"}, {"aggregate": [{"op": "count", "as": "markers"}], "groupby": ["panel"]}],
 "mark": {"type": "rect", "fill": "#f3f2ec", "strokeWidth": 0},
 "encoding": {
  "x": {"datum": -32.5, "type": "quantitative", "scale": {"domain": [0, 599], "nice": false, "zero": false}, "title": null, "axis": {"orient": "top", "values": [0,50,100,150,200,250,300,350,400,450,500,550], "labelExpr": "datum.value % 100 === 0 ? datum.label : ''", "tickSize": 4, "labelPadding": 3, "labelFlush": false, "labelOverlap": false}},
  "x2": {"datum": 610.2},
  "y": {"datum": -1130, "type": "quantitative", "scale": {"domain": [0, 4000], "nice": false, "zero": false}, "title": null, "axis": {"orient": "left", "values": [0,500,1000,1500,2000,2500,3000,3500,4000], "format": "d", "labelExpr": "datum.value % 1000 === 0 ? datum.label : ''", "tickSize": 4, "labelPadding": 5, "labelFlush": false, "labelOverlap": false}},
  "y2": {"datum": -1670}}},
{"transform": [{"filter": "isValid(datum.marker)"}, {"aggregate": [{"op": "count", "as": "markers"}], "groupby": ["panel"]}],
 "mark": {"type": "rect", "fill": "#c4d4f8", "stroke": "#a6bdf0", "strokeWidth": 1, "cornerRadius": 3},
 "encoding": {
  "x": {"datum": -22, "type": "quantitative", "scale": {"domain": [0, 599], "nice": false, "zero": false}, "title": null, "axis": {"orient": "top", "values": [0,50,100,150,200,250,300,350,400,450,500,550], "labelExpr": "datum.value % 100 === 0 ? datum.label : ''", "tickSize": 4, "labelPadding": 3, "labelFlush": false, "labelOverlap": false}},
  "x2": {"datum": 434.4},
  "y": {"datum": -1177, "type": "quantitative", "scale": {"domain": [0, 4000], "nice": false, "zero": false}, "title": null, "axis": {"orient": "left", "values": [0,500,1000,1500,2000,2500,3000,3500,4000], "format": "d", "labelExpr": "datum.value % 1000 === 0 ? datum.label : ''", "tickSize": 4, "labelPadding": 5, "labelFlush": false, "labelOverlap": false}},
  "y2": {"datum": -1655}}},
{"transform": [{"filter": "isValid(datum.marker)"}, {"aggregate": [{"op": "count", "as": "markers"}], "groupby": ["panel"]}],
 "mark": {"type": "rect", "fill": "#c4d4f8", "stroke": "#a6bdf0", "strokeWidth": 1, "cornerRadius": 2},
 "encoding": {
  "x": {"datum": -31.05, "type": "quantitative", "scale": {"domain": [0, 599], "nice": false, "zero": false}, "title": null, "axis": {"orient": "top", "values": [0,50,100,150,200,250,300,350,400,450,500,550], "labelExpr": "datum.value % 100 === 0 ? datum.label : ''", "tickSize": 4, "labelPadding": 3, "labelFlush": false, "labelOverlap": false}},
  "x2": {"datum": -23.65},
  "y": {"datum": -1177, "type": "quantitative", "scale": {"domain": [0, 4000], "nice": false, "zero": false}, "title": null, "axis": {"orient": "left", "values": [0,500,1000,1500,2000,2500,3000,3500,4000], "format": "d", "labelExpr": "datum.value % 1000 === 0 ? datum.label : ''", "tickSize": 4, "labelPadding": 5, "labelFlush": false, "labelOverlap": false}},
  "y2": {"datum": -1655}}},
{"transform": [{"filter": "isValid(datum.marker)"}, {"aggregate": [{"op": "count", "as": "markers"}], "groupby": ["panel"]}],
 "mark": {"type": "rect", "fill": "#c4d4f8", "stroke": "#a6bdf0", "strokeWidth": 1, "cornerRadius": 2},
 "encoding": {
  "x": {"datum": 600.8, "type": "quantitative", "scale": {"domain": [0, 599], "nice": false, "zero": false}, "title": null, "axis": {"orient": "top", "values": [0,50,100,150,200,250,300,350,400,450,500,550], "labelExpr": "datum.value % 100 === 0 ? datum.label : ''", "tickSize": 4, "labelPadding": 3, "labelFlush": false, "labelOverlap": false}},
  "x2": {"datum": 607.5},
  "y": {"datum": -1177, "type": "quantitative", "scale": {"domain": [0, 4000], "nice": false, "zero": false}, "title": null, "axis": {"orient": "left", "values": [0,500,1000,1500,2000,2500,3000,3500,4000], "format": "d", "labelExpr": "datum.value % 1000 === 0 ? datum.label : ''", "tickSize": 4, "labelPadding": 5, "labelFlush": false, "labelOverlap": false}},
  "y2": {"datum": -1655}}},
{"transform": [{"filter": "isValid(datum.marker)"}, {"aggregate": [{"op": "count", "as": "markers"}], "groupby": ["panel"]}],
 "mark": {"type": "text", "text": "<", "font": "DejaVu Sans", "fontWeight": "bold", "fontSize": 14, "fill": "#4d6185", "baseline": "middle"},
 "encoding": {
  "x": {"datum": -27.35, "type": "quantitative", "scale": {"domain": [0, 599], "nice": false, "zero": false}, "title": null, "axis": {"orient": "top", "values": [0,50,100,150,200,250,300,350,400,450,500,550], "labelExpr": "datum.value % 100 === 0 ? datum.label : ''", "tickSize": 4, "labelPadding": 3, "labelFlush": false, "labelOverlap": false}},
  "y": {"datum": -1416, "type": "quantitative", "scale": {"domain": [0, 4000], "nice": false, "zero": false}, "title": null, "axis": {"orient": "left", "values": [0,500,1000,1500,2000,2500,3000,3500,4000], "format": "d", "labelExpr": "datum.value % 1000 === 0 ? datum.label : ''", "tickSize": 4, "labelPadding": 5, "labelFlush": false, "labelOverlap": false}}}},
{"transform": [{"filter": "isValid(datum.marker)"}, {"aggregate": [{"op": "count", "as": "markers"}], "groupby": ["panel"]}],
 "mark": {"type": "text", "text": ">", "font": "DejaVu Sans", "fontWeight": "bold", "fontSize": 14, "fill": "#4d6185", "baseline": "middle"},
 "encoding": {
  "x": {"datum": 604.15, "type": "quantitative", "scale": {"domain": [0, 599], "nice": false, "zero": false}, "title": null, "axis": {"orient": "top", "values": [0,50,100,150,200,250,300,350,400,450,500,550], "labelExpr": "datum.value % 100 === 0 ? datum.label : ''", "tickSize": 4, "labelPadding": 3, "labelFlush": false, "labelOverlap": false}},
  "y": {"datum": -1416, "type": "quantitative", "scale": {"domain": [0, 4000], "nice": false, "zero": false}, "title": null, "axis": {"orient": "left", "values": [0,500,1000,1500,2000,2500,3000,3500,4000], "format": "d", "labelExpr": "datum.value % 1000 === 0 ? datum.label : ''", "tickSize": 4, "labelPadding": 5, "labelFlush": false, "labelOverlap": false}}}},
{"transform": [{"filter": "isValid(datum.marker)"}, {"aggregate": [{"op": "count", "as": "markers"}], "groupby": ["panel"]}],
 "mark": {"type": "text", "text": "|||", "font": "DejaVu Sans", "fontSize": 8, "fill": "#8ea4d8", "baseline": "middle"},
 "encoding": {
  "x": {"datum": 206.2, "type": "quantitative", "scale": {"domain": [0, 599], "nice": false, "zero": false}, "title": null, "axis": {"orient": "top", "values": [0,50,100,150,200,250,300,350,400,450,500,550], "labelExpr": "datum.value % 100 === 0 ? datum.label : ''", "tickSize": 4, "labelPadding": 3, "labelFlush": false, "labelOverlap": false}},
  "y": {"datum": -1416, "type": "quantitative", "scale": {"domain": [0, 4000], "nice": false, "zero": false}, "title": null, "axis": {"orient": "left", "values": [0,500,1000,1500,2000,2500,3000,3500,4000], "format": "d", "labelExpr": "datum.value % 1000 === 0 ? datum.label : ''", "tickSize": 4, "labelPadding": 5, "labelFlush": false, "labelOverlap": false}}}},
{"transform": [{"filter": "isValid(datum.marker)"}, {"aggregate": [{"op": "count", "as": "markers"}], "groupby": ["panel"]}, {"filter": "datum.panel === 1"}],
 "mark": {"type": "rect", "fill": "#ece9d8", "strokeWidth": 0},
 "encoding": {
  "x": {"datum": -32.5, "type": "quantitative", "scale": {"domain": [0, 599], "nice": false, "zero": false}, "title": null, "axis": {"orient": "top", "values": [0,50,100,150,200,250,300,350,400,450,500,550], "labelExpr": "datum.value % 100 === 0 ? datum.label : ''", "tickSize": 4, "labelPadding": 3, "labelFlush": false, "labelOverlap": false}},
  "x2": {"datum": 610.2},
  "y": {"datum": 5497, "type": "quantitative", "scale": {"domain": [0, 4000], "nice": false, "zero": false}, "title": null, "axis": {"orient": "left", "values": [0,500,1000,1500,2000,2500,3000,3500,4000], "format": "d", "labelExpr": "datum.value % 1000 === 0 ? datum.label : ''", "tickSize": 4, "labelPadding": 5, "labelFlush": false, "labelOverlap": false}},
  "y2": {"datum": 5265}}},
{"transform": [{"filter": "isValid(datum.marker)"}, {"aggregate": [{"op": "count", "as": "markers"}], "groupby": ["panel"]}, {"filter": "datum.panel === 1"}],
 "mark": {"type": "rule", "stroke": "#9a9a9a", "strokeWidth": 1.5},
 "encoding": {
  "x": {"datum": -32.5, "type": "quantitative", "scale": {"domain": [0, 599], "nice": false, "zero": false}, "title": null, "axis": {"orient": "top", "values": [0,50,100,150,200,250,300,350,400,450,500,550], "labelExpr": "datum.value % 100 === 0 ? datum.label : ''", "tickSize": 4, "labelPadding": 3, "labelFlush": false, "labelOverlap": false}},
  "x2": {"datum": 610.2},
  "y": {"datum": 5250, "type": "quantitative", "scale": {"domain": [0, 4000], "nice": false, "zero": false}, "title": null, "axis": {"orient": "left", "values": [0,500,1000,1500,2000,2500,3000,3500,4000], "format": "d", "labelExpr": "datum.value % 1000 === 0 ? datum.label : ''", "tickSize": 4, "labelPadding": 5, "labelFlush": false, "labelOverlap": false}}}},
{"transform": [{"filter": "isValid(datum.marker)"}, {"aggregate": [{"op": "count", "as": "markers"}], "groupby": ["panel"]}, {"filter": "datum.panel === 1 || datum.panel === 3"}],
 "mark": {"type": "rule", "stroke": "#a8a8a8", "strokeWidth": 2},
 "encoding": {
  "x": {"datum": -32.2, "type": "quantitative", "scale": {"domain": [0, 599], "nice": false, "zero": false}, "title": null, "axis": {"orient": "top", "values": [0,50,100,150,200,250,300,350,400,450,500,550], "labelExpr": "datum.value % 100 === 0 ? datum.label : ''", "tickSize": 4, "labelPadding": 3, "labelFlush": false, "labelOverlap": false}},
  "y": {"datum": 5230, "type": "quantitative", "scale": {"domain": [0, 4000], "nice": false, "zero": false}, "title": null, "axis": {"orient": "left", "values": [0,500,1000,1500,2000,2500,3000,3500,4000], "format": "d", "labelExpr": "datum.value % 1000 === 0 ? datum.label : ''", "tickSize": 4, "labelPadding": 5, "labelFlush": false, "labelOverlap": false}},
  "y2": {"datum": -1814}}},
{"transform": [{"filter": "isValid(datum.marker)"}, {"aggregate": [{"op": "count", "as": "markers"}], "groupby": ["panel"]}, {"filter": "datum.panel === 4"}],
 "mark": {"type": "rule", "stroke": "#a8a8a8", "strokeWidth": 2},
 "encoding": {
  "x": {"datum": -32.2, "type": "quantitative", "scale": {"domain": [0, 599], "nice": false, "zero": false}, "title": null, "axis": {"orient": "top", "values": [0,50,100,150,200,250,300,350,400,450,500,550], "labelExpr": "datum.value % 100 === 0 ? datum.label : ''", "tickSize": 4, "labelPadding": 3, "labelFlush": false, "labelOverlap": false}},
  "y": {"datum": 5206, "type": "quantitative", "scale": {"domain": [0, 4000], "nice": false, "zero": false}, "title": null, "axis": {"orient": "left", "values": [0,500,1000,1500,2000,2500,3000,3500,4000], "format": "d", "labelExpr": "datum.value % 1000 === 0 ? datum.label : ''", "tickSize": 4, "labelPadding": 5, "labelFlush": false, "labelOverlap": false}},
  "y2": {"datum": -1665}}},
{"transform": [{"filter": "isValid(datum.marker)"}, {"aggregate": [{"op": "count", "as": "markers"}], "groupby": ["panel"]}, {"filter": "datum.panel === 2"}],
 "mark": {"type": "rule", "stroke": "#4fd8e8", "strokeWidth": 2},
 "encoding": {
  "x": {"datum": -32.2, "type": "quantitative", "scale": {"domain": [0, 599], "nice": false, "zero": false}, "title": null, "axis": {"orient": "top", "values": [0,50,100,150,200,250,300,350,400,450,500,550], "labelExpr": "datum.value % 100 === 0 ? datum.label : ''", "tickSize": 4, "labelPadding": 3, "labelFlush": false, "labelOverlap": false}},
  "y": {"datum": 5206, "type": "quantitative", "scale": {"domain": [0, 4000], "nice": false, "zero": false}, "title": null, "axis": {"orient": "left", "values": [0,500,1000,1500,2000,2500,3000,3500,4000], "format": "d", "labelExpr": "datum.value % 1000 === 0 ? datum.label : ''", "tickSize": 4, "labelPadding": 5, "labelFlush": false, "labelOverlap": false}},
  "y2": {"datum": -1814}}},
{"transform": [{"filter": "isValid(datum.marker)"}, {"aggregate": [{"op": "count", "as": "markers"}], "groupby": ["panel"]}, {"filter": "datum.panel === 1 || datum.panel === 2"}],
 "mark": {"type": "rule", "stroke": "#4fd8e8", "strokeWidth": 2},
 "encoding": {
  "x": {"datum": -32.5, "type": "quantitative", "scale": {"domain": [0, 599], "nice": false, "zero": false}, "title": null, "axis": {"orient": "top", "values": [0,50,100,150,200,250,300,350,400,450,500,550], "labelExpr": "datum.value % 100 === 0 ? datum.label : ''", "tickSize": 4, "labelPadding": 3, "labelFlush": false, "labelOverlap": false}},
  "x2": {"datum": 610.2},
  "y": {"datum": -1814, "type": "quantitative", "scale": {"domain": [0, 4000], "nice": false, "zero": false}, "title": null, "axis": {"orient": "left", "values": [0,500,1000,1500,2000,2500,3000,3500,4000], "format": "d", "labelExpr": "datum.value % 1000 === 0 ? datum.label : ''", "tickSize": 4, "labelPadding": 5, "labelFlush": false, "labelOverlap": false}}}},
{"transform": [{"filter": "isValid(datum.marker)"}, {"aggregate": [{"op": "count", "as": "markers"}], "groupby": ["panel"]}, {"filter": "datum.panel === 3"}],
 "mark": {"type": "rule", "stroke": "#c4c4c4", "strokeWidth": 1.5},
 "encoding": {
  "x": {"datum": -32.5, "type": "quantitative", "scale": {"domain": [0, 599], "nice": false, "zero": false}, "title": null, "axis": {"orient": "top", "values": [0,50,100,150,200,250,300,350,400,450,500,550], "labelExpr": "datum.value % 100 === 0 ? datum.label : ''", "tickSize": 4, "labelPadding": 3, "labelFlush": false, "labelOverlap": false}},
  "x2": {"datum": 610.2},
  "y": {"datum": -1805, "type": "quantitative", "scale": {"domain": [0, 4000], "nice": false, "zero": false}, "title": null, "axis": {"orient": "left", "values": [0,500,1000,1500,2000,2500,3000,3500,4000], "format": "d", "labelExpr": "datum.value % 1000 === 0 ? datum.label : ''", "tickSize": 4, "labelPadding": 5, "labelFlush": false, "labelOverlap": false}}}},
{"transform": [{"filter": "isValid(datum.note)"}],
 "mark": {"type": "point", "shape": "M0.842,0 L0.813,0.259 L0.729,0.5 L0.595,0.707 L0.421,0.866 L0.218,0.966 L0,1 L-0.218,0.966 L-0.421,0.866 L-0.595,0.707 L-0.729,0.5 L-0.813,0.259 L-0.842,0 L-0.813,-0.259 L-0.729,-0.5 L-0.595,-0.707 L-0.421,-0.866 L-0.218,-0.966 L0,-1 L0.218,-0.966 L0.421,-0.866 L0.595,-0.707 L0.729,-0.5 L0.813,-0.259 Z", "size": 9025, "filled": false, "stroke": "#ff0000", "strokeWidth": 4, "opacity": 1},
 "encoding": {
  "x": {"field": "at", "type": "quantitative", "scale": {"domain": [0, 599], "nice": false, "zero": false}, "title": null, "axis": {"orient": "top", "values": [0,50,100,150,200,250,300,350,400,450,500,550], "labelExpr": "datum.value % 100 === 0 ? datum.label : ''", "tickSize": 4, "labelPadding": 3, "labelFlush": false, "labelOverlap": false}},
  "y": {"datum": -204, "type": "quantitative", "scale": {"domain": [0, 4000], "nice": false, "zero": false}, "title": null, "axis": {"orient": "left", "values": [0,500,1000,1500,2000,2500,3000,3500,4000], "format": "d", "labelExpr": "datum.value % 1000 === 0 ? datum.label : ''", "tickSize": 4, "labelPadding": 5, "labelFlush": false, "labelOverlap": false}}}}
]
},
"config": {
 "view": {"stroke": "#1a1a1a", "strokeWidth": 1.5},
 "axis": {"labelFont": "DejaVu Sans", "labelFontWeight": "bold", "labelFontSize": 11, "labelColor": "#000000", "tickColor": "#000000", "tickWidth": 1, "domainColor": "#000000", "domainWidth": 1.5, "grid": false, "labelOverlap": false, "labelFlush": false}
}
}
